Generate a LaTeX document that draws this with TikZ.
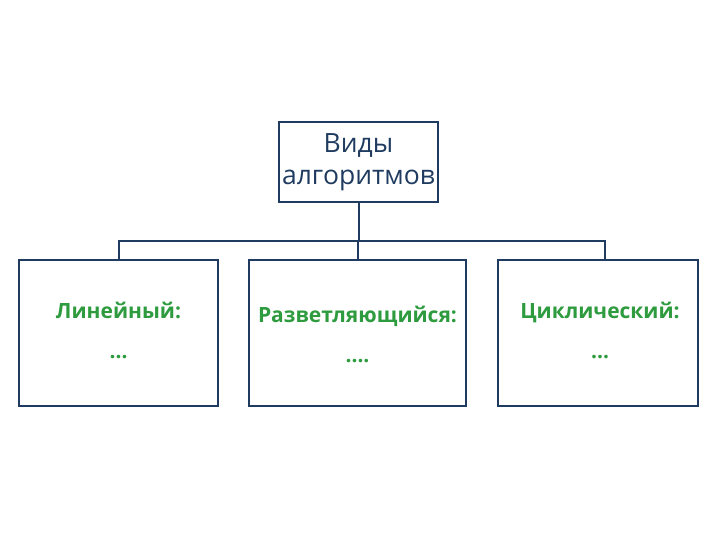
\documentclass[tikz,border=0pt]{standalone}
\usepackage{fontspec}
\setmainfont{Open Sans}
\definecolor{frame}{HTML}{1F3B5F}
\definecolor{kind}{HTML}{2E9B3F}
\tikzset{
  topbox/.style={draw=frame, line width=2pt, minimum width=159pt, minimum height=80pt,
    inner sep=1pt, align=center, text=frame, font=\fontsize{26.5}{32}\selectfont},
  kindbox/.style={draw=frame, line width=2pt, minimum height=146pt, anchor=north},
  kindtext/.style={align=center, text=kind, font=\bfseries\fontsize{21}{40}\selectfont}
}
\begin{document}
\begin{tikzpicture}[x=1pt,y=-1pt]
  \useasboundingbox (0,0) rectangle (720,540);
  \node [topbox] (root) at (358.5,162) {Виды\\алгоритмов};
  % the three kinds
  \node [kindbox, minimum width=199pt] (lin) at (118.5,259) {};
  \node [kindbox, minimum width=217pt] (branch) at (357.5,259) {};
  \node [kindbox, minimum width=200pt] (loop) at (598,259) {};
  \node [kindtext] (lint) at (118.5,330) {Линейный:\\…};
  \node [kindtext] (brancht) at (357.5,334) {Разветляющийся:\\….};
  \node [kindtext] (loopt) at (600,330) {Циклический:\\…};
  % connectors
  \coordinate (bar) at (0,241);
  \coordinate (barend) at (605,241);
  \draw [frame, line width=2pt] (root.south) -- (root.south |- bar);
  \draw [frame, line width=2pt] (lin.north) -- (lin.north |- bar) -- (barend) -- (barend |- loop.north);
  \draw [frame, line width=2pt] (branch.north |- bar) -- (branch.north);
\end{tikzpicture}
\end{document}
